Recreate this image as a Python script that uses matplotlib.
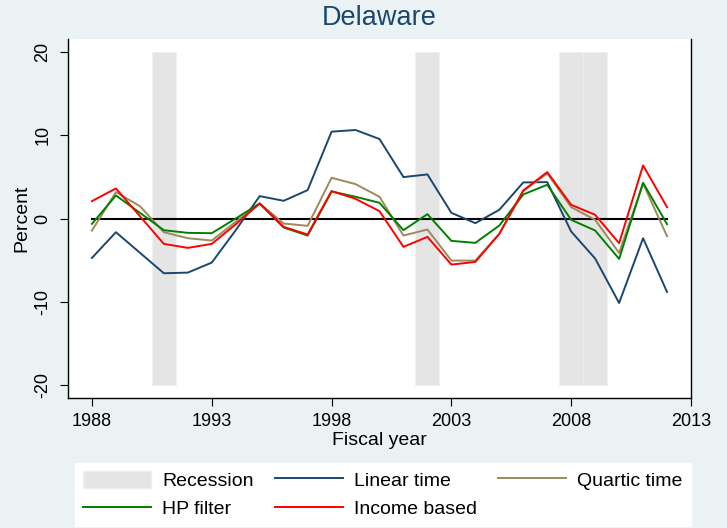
import matplotlib
matplotlib.use("Agg")
import matplotlib.pyplot as plt
from matplotlib.patches import Patch
from matplotlib.lines import Line2D

plt.rcParams['font.family'] = ['Liberation Sans', 'DejaVu Sans']
plt.rcParams['axes.unicode_minus'] = False

years = list(range(1988, 2013))
linear_time = [-4.72, -1.64, -4.1, -6.56, -6.48, -5.28, -1.4, 2.68, 2.12, 3.4,
               10.4, 10.6, 9.52, 4.96, 5.28, 0.68, -0.56, 1.04, 4.32, 4.36,
               -1.56, -4.8, -10.12, -2.36, -8.8]
quartic_time = [-1.44, 3.16, 1.48, -1.64, -2.36, -2.64, -0.4, 1.8, -0.6, -0.88,
                4.88, 4.12, 2.6, -2.04, -1.32, -5.04, -5.04, -1.84, 3.28, 5.4,
                1.36, -0.16, -4.12, 4.2, -2.12]
hp_filter = [-0.64, 2.76, 0.68, -1.4, -1.72, -1.76, 0.0, 1.8, -1.08, -2.04,
             3.24, 2.6, 1.88, -1.4, 0.52, -2.68, -2.92, -0.84, 2.88, 4.04,
             -0.16, -1.44, -4.84, 4.28, -0.68]
income_based = [2.08, 3.6, 0.28, -3.04, -3.52, -3.04, -0.7, 1.8, -1.0, -1.92,
                3.28, 2.36, 0.88, -3.4, -2.2, -5.52, -5.2, -1.84, 3.36, 5.56,
                1.64, 0.44, -2.96, 6.36, 1.36]
recession_years = [1991, 2002, 2008, 2009]
recession_low, recession_high = -20, 20
xticks = [1988, 1993, 1998, 2003, 2008, 2013]
yticks = [-20, -10, 0, 10, 20]

BG = '#EAF2F3'
NAVY = '#1A476F'
KHAKI = '#9C8A5C'
GREEN = '#008000'
RED = '#FF0000'
GRAY = '#E5E5E5'

fig = plt.figure(figsize=(7.27, 5.28), dpi=100, facecolor=BG)
ax = fig.add_axes([68/727, 1-398/528, (691-68)/727, (398-39)/528])
ax.set_facecolor('white')

ax.bar(recession_years, [recession_high - recession_low]*len(recession_years),
       bottom=recession_low, width=1.0, color=GRAY, edgecolor='#EDF1F1',
       linewidth=0.6, zorder=1)
ax.plot(years, [0]*len(years), color='black', lw=1.5, zorder=2)
ax.plot(years, linear_time, color=NAVY, lw=1.4, zorder=3)
ax.plot(years, quartic_time, color=KHAKI, lw=1.4, zorder=3)
ax.plot(years, hp_filter, color=GREEN, lw=1.4, zorder=3)
ax.plot(years, income_based, color=RED, lw=1.4, zorder=3)

ax.set_xlim(1987, 2013)
ax.set_ylim(-21.5, 21.5)
ax.set_xticks(xticks)
ax.set_yticks(yticks)
ax.tick_params(axis='both', labelsize=13, length=6, width=0.8, color='black')
ax.tick_params(axis='x', pad=5)
ax.tick_params(axis='y', pad=6, labelrotation=90)
for lab in ax.get_yticklabels():
    lab.set_va('center')

for s in ['left', 'bottom', 'right']:
    ax.spines[s].set_color('black')
    ax.spines[s].set_linewidth(1.0)
ax.spines['top'].set_visible(False)

ax.set_xlabel('Fiscal year', fontsize=14, va='top')
ax.xaxis.set_label_coords(0.5, -0.094)
ax.set_ylabel('Percent', fontsize=14, va='center')
ax.yaxis.set_label_coords(-0.074, 0.5)
ax.set_title('Delaware', fontsize=19.5, color=NAVY, y=1.0585, va='center', pad=0)

h_rec = Patch(facecolor=GRAY, edgecolor='#EDF1F1', label='Recession')
h_lin = Line2D([], [], color=NAVY, lw=1.4, label='Linear time')
h_qua = Line2D([], [], color=KHAKI, lw=1.4, label='Quartic time')
h_hp = Line2D([], [], color=GREEN, lw=1.4, label='HP filter')
h_inc = Line2D([], [], color=RED, lw=1.4, label='Income based')
handles = [h_rec, h_hp, h_lin, h_inc, h_qua]
leg = fig.legend(handles=handles, ncol=3, loc='upper left',
                 bbox_to_anchor=(75/727, 1-463/528), borderaxespad=0,
                 fontsize=14, frameon=True, fancybox=False, facecolor='white',
                 edgecolor='white', framealpha=1, handlelength=3.5,
                 handleheight=1.0, handletextpad=0.57, columnspacing=1.1,
                 labelspacing=0.45, borderpad=0.4)

fig.savefig('out.png', dpi=100, facecolor=BG)
